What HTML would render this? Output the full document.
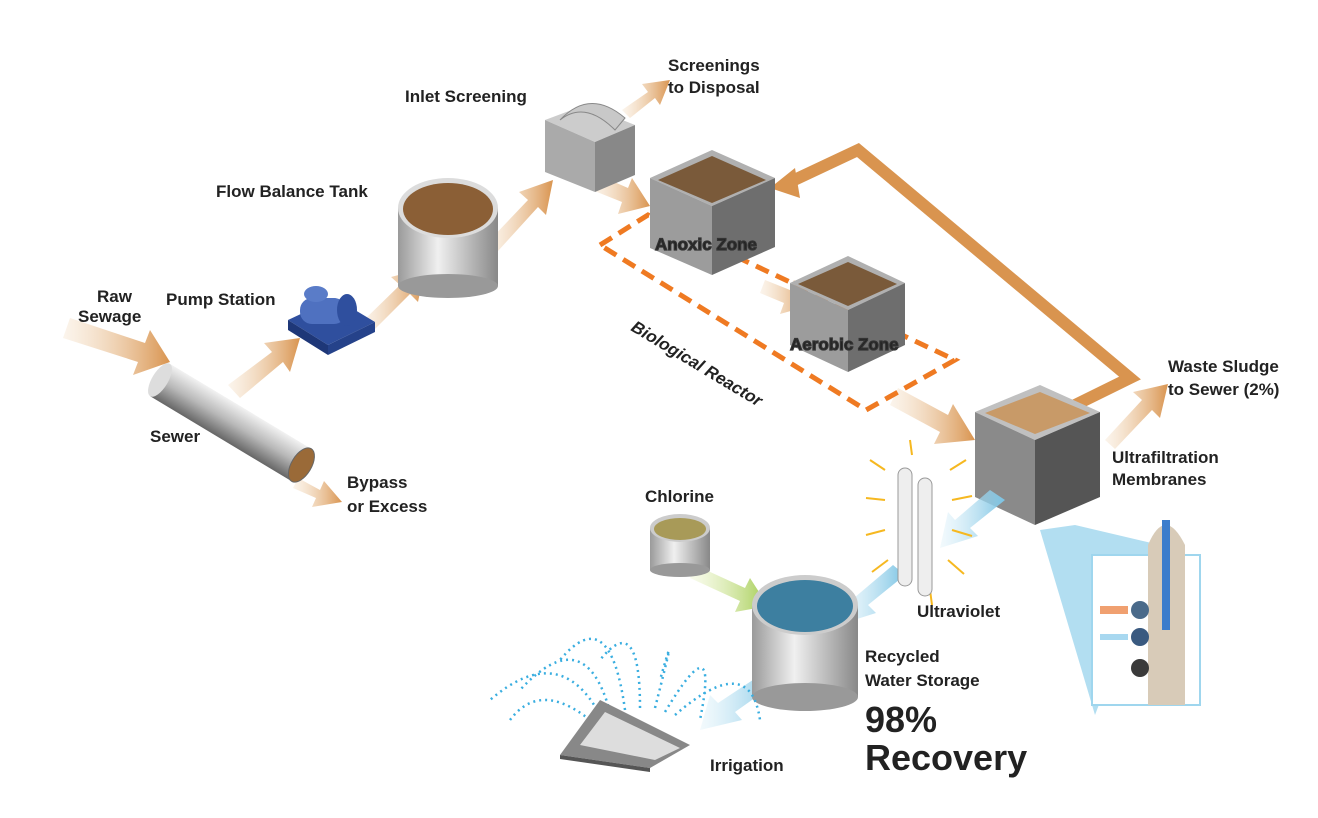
<!DOCTYPE html>
<html><head><style>
html,body{margin:0;padding:0;background:#fff;}
svg{display:block;}
text{font-family:"Liberation Sans",sans-serif;font-weight:bold;fill:#222;}
</style></head><body>
<svg width="1318" height="818" viewBox="0 0 1318 818" xmlns="http://www.w3.org/2000/svg">
<defs>
<linearGradient id="ar" x1="0" x2="1"><stop offset="0" stop-color="#f3dcc0" stop-opacity="0.3"/><stop offset="1" stop-color="#d9944f"/></linearGradient>
<linearGradient id="bl" x1="0" x2="1"><stop offset="0" stop-color="#d6eef8" stop-opacity="0.3"/><stop offset="1" stop-color="#7cc4e4"/></linearGradient>
<linearGradient id="gr" x1="0" x2="1"><stop offset="0" stop-color="#e8f2c0" stop-opacity="0.3"/><stop offset="1" stop-color="#a3cc52"/></linearGradient>
<linearGradient id="cyl" x1="0" x2="1"><stop offset="0" stop-color="#9a9a9a"/><stop offset="0.4" stop-color="#f0f0f0"/><stop offset="1" stop-color="#888"/></linearGradient>
<linearGradient id="pipe" x1="0" y1="0" x2="0" y2="1"><stop offset="0" stop-color="#f2f2f2"/><stop offset="0.5" stop-color="#b8b8b8"/><stop offset="1" stop-color="#666"/></linearGradient>
</defs>

<g>
<polygon points="70,318 145,343 150,330 170,362 133,375 138,362 63,338" fill="url(#ar)"/>
<polygon points="228,385 272,352 264,343 300,338 290,372 283,362 240,398" fill="url(#ar)"/>
<polygon points="362,322 400,285 391,277 425,268 418,302 410,294 372,332" fill="url(#ar)"/>
<polygon points="488,242 528,200 519,192 553,180 546,215 538,207 498,251" fill="url(#ar)"/>
<polygon points="622,110 648,92 642,84 670,80 660,105 655,98 630,118" fill="url(#ar)"/>
<polygon points="598,175 628,188 632,178 650,206 618,214 622,202 592,190" fill="url(#ar)"/>
<polygon points="765,280 790,290 794,280 812,305 780,314 784,303 760,293" fill="url(#ar)"/>
<polygon points="898,388 948,415 953,404 975,440 934,444 940,432 890,405" fill="url(#ar)"/>
<polygon points="1105,440 1142,400 1133,392 1168,384 1160,418 1152,410 1115,449" fill="url(#ar)"/>
<polygon points="298,478 320,490 324,481 342,502 312,507 316,498 293,488" fill="url(#ar)"/>
</g>

<polyline points="1065,410 1130,378 858,150 790,182" fill="none" stroke="#d9944f" stroke-width="12" stroke-linejoin="miter"/>
<polygon points="770,188 795,168 800,198" fill="#d9944f"/>

<polygon points="600,245 648,215 955,360 866,410" fill="none" stroke="#ef7a22" stroke-width="5" stroke-dasharray="14,8"/>

<g transform="translate(160,380) rotate(31)">
<rect x="0" y="-19" width="165" height="38" fill="url(#pipe)"/>
<ellipse cx="0" cy="0" rx="8" ry="19" fill="#ddd"/>
<ellipse cx="165" cy="0" rx="10" ry="19" fill="#9a6a38" stroke="#666"/>
</g>

<g>
<polygon points="288,320 335,298 375,322 328,345" fill="#2f4f9e"/>
<polygon points="288,320 328,345 328,355 288,330" fill="#1e3778"/>
<polygon points="328,345 375,322 375,332 328,355" fill="#25428a"/>
<rect x="300" y="298" width="46" height="26" rx="12" fill="#4f71c0"/>
<ellipse cx="347" cy="310" rx="10" ry="16" fill="#2f4f9e"/>
<ellipse cx="316" cy="294" rx="12" ry="8" fill="#5a7cc8"/>
</g>

<rect x="398" y="208" width="100" height="78" fill="url(#cyl)"/>
<ellipse cx="448" cy="286" rx="50" ry="12" fill="#999"/>
<ellipse cx="448" cy="208" rx="50" ry="30" fill="#dcdcdc"/>
<ellipse cx="448" cy="209" rx="45" ry="26" fill="#8b5f36"/>

<polygon points="545,120 585,105 635,125 595,142" fill="#ccc"/>
<polygon points="545,120 595,142 595,192 545,172" fill="#aaa"/>
<polygon points="595,142 635,125 635,175 595,192" fill="#888"/>
<path d="M560,120 Q590,88 625,118 L615,130 Q585,100 560,120z" fill="#c8c8c8" stroke="#888"/>

<polygon points="650,178 712,150 775,178 712,206" fill="#b0b0b0"/>
<polygon points="658,180 712,156 766,180 712,203" fill="#7a5a3a"/>
<polygon points="650,178 712,206 712,275 650,248" fill="#9c9c9c"/>
<polygon points="712,206 775,178 775,247 712,275" fill="#6e6e6e"/>
<polygon points="790,283 848,256 905,283 848,310" fill="#b0b0b0"/>
<polygon points="798,284 848,262 897,284 848,306" fill="#7a5a3a"/>
<polygon points="790,283 848,310 848,372 790,345" fill="#9c9c9c"/>
<polygon points="848,310 905,283 905,345 848,372" fill="#6e6e6e"/>

<polygon points="1040,530 1075,525 1160,545 1095,715" fill="#9fd6ee" opacity="0.8"/>
<rect x="1092" y="555" width="108" height="150" fill="#fff" stroke="#9fd6ee" stroke-width="2"/>
<path d="M1148,545 Q1165,505 1185,545 L1185,705 L1148,705z" fill="#d8cbb8"/>
<rect x="1162" y="520" width="8" height="110" fill="#3c7dcc"/>
<circle cx="1140" cy="610" r="9" fill="#4a6a8a"/><circle cx="1140" cy="637" r="9" fill="#3a5a80"/><circle cx="1140" cy="668" r="9" fill="#3a3a3a"/>
<rect x="1100" y="606" width="28" height="8" fill="#f0a070"/><rect x="1100" y="634" width="28" height="6" fill="#a8d8f0"/>

<polygon points="975,412 1040,385 1100,412 1035,440" fill="#c0c0c0"/>
<polygon points="985,413 1040,392 1090,413 1035,434" fill="#c89a68"/>
<polygon points="975,412 1035,440 1035,525 975,497" fill="#8a8a8a"/>
<polygon points="1035,440 1100,412 1100,497 1035,525" fill="#555"/>

<polygon points="1005,500 970,528 978,536 940,548 948,512 955,520 990,490" fill="url(#bl)"/>
<polygon points="905,575 868,605 876,613 838,625 846,590 854,598 893,565" fill="url(#bl)"/>
<polygon points="780,680 735,712 742,720 700,730 710,695 718,703 768,670" fill="url(#bl)"/>
<polygon points="695,565 745,588 750,578 768,606 735,612 740,601 690,578" fill="url(#gr)"/>

<g stroke="#f6b820" stroke-width="2">
<line x1="885" y1="470" x2="870" y2="460"/><line x1="885" y1="500" x2="866" y2="498"/><line x1="885" y1="530" x2="866" y2="535"/><line x1="888" y1="560" x2="872" y2="572"/>
<line x1="950" y1="470" x2="966" y2="460"/><line x1="952" y1="500" x2="972" y2="496"/><line x1="952" y1="530" x2="972" y2="536"/><line x1="948" y1="560" x2="964" y2="574"/>
<line x1="912" y1="455" x2="910" y2="440"/><line x1="930" y1="590" x2="932" y2="605"/>
</g>
<rect x="898" y="468" width="14" height="118" rx="7" fill="#eee" stroke="#999"/>
<rect x="918" y="478" width="14" height="118" rx="7" fill="#eee" stroke="#999"/>

<rect x="650" y="528" width="60" height="42" fill="url(#cyl)"/>
<ellipse cx="680" cy="570" rx="30" ry="7" fill="#999"/>
<ellipse cx="680" cy="528" rx="30" ry="14" fill="#ccc"/>
<ellipse cx="680" cy="529" rx="26" ry="11" fill="#a89a58"/>

<rect x="752" y="605" width="106" height="92" fill="url(#cyl)"/>
<ellipse cx="805" cy="697" rx="53" ry="14" fill="#999"/>
<ellipse cx="805" cy="605" rx="53" ry="30" fill="#ccc"/>
<ellipse cx="805" cy="606" rx="48" ry="26" fill="#3d7fa0"/>

<g fill="none" stroke="#3aaee0" stroke-width="2.5" stroke-dasharray="2,4">
<path d="M600,715 Q560,640 490,700"/><path d="M610,712 Q585,620 520,690"/><path d="M625,710 Q610,600 560,660"/>
<path d="M640,708 Q640,610 600,660"/><path d="M655,708 Q680,610 660,680"/><path d="M665,712 Q720,620 700,720"/>
<path d="M675,715 Q750,650 760,720"/><path d="M590,720 Q540,680 510,720"/>
</g>
<polygon points="560,755 600,700 690,745 650,768" fill="#888"/>
<polygon points="580,745 605,712 680,748 655,760" fill="#ddd"/>
<polygon points="560,755 650,768 650,772 560,759" fill="#555"/>

<g font-size="17">
<text x="97" y="302">Raw</text><text x="78" y="322">Sewage</text>
<text x="166" y="305">Pump Station</text>
<text x="150" y="442">Sewer</text>
<text x="347" y="488">Bypass</text><text x="347" y="512">or Excess</text>
<text x="216" y="197">Flow Balance Tank</text>
<text x="405" y="102">Inlet Screening</text>
<text x="668" y="71">Screenings</text><text x="668" y="93">to Disposal</text>
<text x="655" y="250" fill="#fff" stroke="#333" stroke-width="1.2">Anoxic Zone</text>
<text x="790" y="350" fill="#fff" stroke="#333" stroke-width="1.2">Aerobic Zone</text>
<text x="630" y="330" transform="rotate(31 630 330)" font-style="italic">Biological Reactor</text>
<text x="1168" y="372">Waste Sludge</text><text x="1168" y="395">to Sewer (2%)</text>
<text x="1112" y="463">Ultrafiltration</text><text x="1112" y="485">Membranes</text>
<text x="645" y="502">Chlorine</text>
<text x="917" y="617">Ultraviolet</text>
<text x="865" y="662">Recycled</text><text x="865" y="686">Water Storage</text>
<text x="710" y="771">Irrigation</text>
<text x="865" y="732" font-size="36">98%</text>
<text x="865" y="770" font-size="36">Recovery</text>
</g>
</svg>
</body></html>
